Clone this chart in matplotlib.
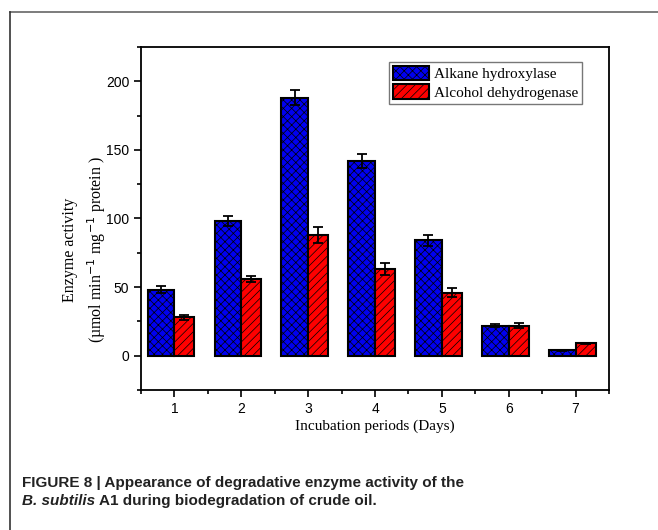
import numpy as np
import matplotlib
matplotlib.use('Agg')
import matplotlib.pyplot as plt
from matplotlib.ticker import MultipleLocator, FixedLocator
from matplotlib.patches import Patch
from matplotlib.lines import Line2D

# enzyme activity per incubation day
days = [1, 2, 3, 4, 5, 6, 7]
alkane = [48, 98, 188, 142, 84, 22, 4]
alkane_err = [2.5, 3.5, 5.5, 5, 4.3, 1, 0.3]
alcohol = [28, 56, 88, 63, 46, 22, 9]
alcohol_err = [2, 2.2, 6, 4.5, 3.5, 1.5, 0.5]
series_names = ['Alkane hydroxylase', 'Alcohol dehydrogenase']

serif = ['Liberation Serif', 'DejaVu Serif']
sans = ['Liberation Sans', 'DejaVu Sans']

plt.rcParams['hatch.linewidth'] = 0.5
plt.rcParams['font.family'] = sans

fig = plt.figure(figsize=(6.58, 5.30), dpi=100)
ax = fig.add_axes([141/658, 1-390/530, (609-141)/658, (390-47)/530])

x = np.array(days, dtype=float)
ax.bar(x - 0.2, alkane, width=0.4, color='#0000f0', edgecolor='black',
       linewidth=1.5, hatch='xxxx', zorder=2)
ax.bar(x + 0.15, alcohol, width=0.3, color='#ff0000', edgecolor='black',
       linewidth=1.5, hatch='////', zorder=2)
ax.errorbar(x - 0.2, alkane, yerr=alkane_err, fmt='none', ecolor='black',
            elinewidth=1.3, capsize=3.5, capthick=1.3, zorder=3)
ax.errorbar(x + 0.15, alcohol, yerr=alcohol_err, fmt='none', ecolor='black',
            elinewidth=1.3, capsize=3.5, capthick=1.3, zorder=3)

ax.set_xlim(0.5, 7.5)
ax.set_ylim(-25, 225)
ax.set_xticks(days)
ax.set_yticks([0, 50, 100, 150, 200])
ax.xaxis.set_minor_locator(FixedLocator(np.arange(0.5, 8, 1)))
ax.yaxis.set_minor_locator(MultipleLocator(25))
ax.tick_params(which='major', direction='out', length=5, width=1.2, labelsize=10)
ax.tick_params(which='minor', direction='out', length=3, width=1.2)
for s in ax.spines.values():
    s.set_linewidth(1.3)

ax.set_xlabel('Incubation periods (Days)', family=serif, fontsize=11, labelpad=3)

fig.text(85/658, 1-250/530,
         'Enzyme activity\n(µmol min$^{-1}$ mg$^{-1}$ protein )',
         rotation=90, ha='center', va='center', multialignment='center',
         family=serif, fontsize=11.5, linespacing=1.45)

handles = [Patch(facecolor='#0000f0', edgecolor='black', hatch='xxxx', linewidth=1.5),
           Patch(facecolor='#ff0000', edgecolor='black', hatch='////', linewidth=1.5)]
leg = ax.legend(handles, series_names, loc='upper left',
                bbox_to_anchor=((389-141)/468, 1-(62-47)/343),
                prop={'family': serif, 'size': 11}, fancybox=False,
                edgecolor='#777777', framealpha=1, handlelength=2.4,
                handleheight=1.1, borderpad=0.25, labelspacing=0.2,
                handletextpad=0.3, borderaxespad=0)
leg.get_frame().set_linewidth(1.0)

# outer frame (top and left rules)
fig.add_artist(Line2D([10/658, 1], [1-12/530, 1-12/530], color='#666666', lw=1.2))
fig.add_artist(Line2D([10/658, 10/658], [1-12/530, 0], color='#333333', lw=1.2))

cap_kw = dict(family=sans, fontweight='bold', fontsize=11, va='center', color='#222222')
fig.text(22/658, 1-483/530,
         'FIGURE 8 | Appearance of degradative enzyme activity of the', **cap_kw)
t2 = fig.text(22/658, 1-501/530, 'B. subtilis', style='italic', **cap_kw)
fig.canvas.draw()
bb = t2.get_window_extent()
fig.text((bb.x1 + 4)/658, 1-501/530, 'A1 during biodegradation of crude oil.', **cap_kw)

fig.savefig('out.png', dpi=100)
